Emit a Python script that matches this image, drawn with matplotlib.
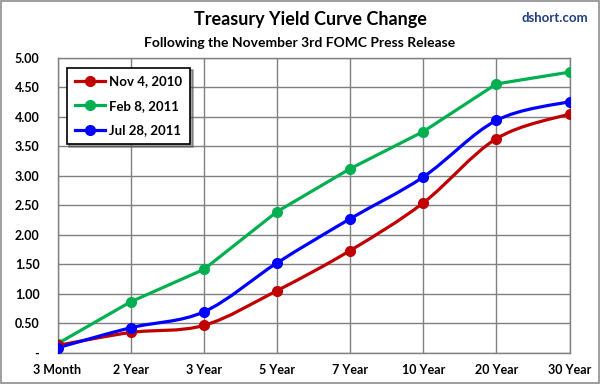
import numpy as np
import matplotlib.pyplot as plt
from matplotlib.path import Path
from matplotlib.patches import PathPatch, Rectangle
from matplotlib.lines import Line2D

plt.rcParams['font.family'] = ['Lato', 'DejaVu Sans']

# --- data ---
maturities = ["3 Month", "2 Year", "3 Year", "5 Year", "7 Year", "10 Year", "20 Year", "30 Year"]
nov_2010 = [0.12, 0.34, 0.46, 1.05, 1.73, 2.54, 3.63, 4.05]
feb_2011 = [0.15, 0.86, 1.41, 2.39, 3.12, 3.75, 4.56, 4.76]
jul_2011 = [0.08, 0.42, 0.69, 1.52, 2.27, 2.98, 3.94, 4.26]
yticks = [0, 0.5, 1.0, 1.5, 2.0, 2.5, 3.0, 3.5, 4.0, 4.5, 5.0]
ytick_labels = ["-", "0.50", "1.00", "1.50", "2.00", "2.50", "3.00", "3.50", "4.00", "4.50", "5.00"]

RED = "#C00000"
GREEN = "#00B050"
BLUE = "#0000FF"
GRID = "#808080"


def smooth_path(xs, ys):
    # excel-style smoothed line: cubic bezier through the points
    pts = np.column_stack([xs, ys]).astype(float)
    n = len(pts)
    verts = [pts[0]]
    codes = [Path.MOVETO]
    for i in range(n - 1):
        p0 = pts[i - 1] if i > 0 else pts[i]
        p1 = pts[i]
        p2 = pts[i + 1]
        p3 = pts[i + 2] if i + 2 < n else pts[i + 1]
        c1 = p1 + (p2 - p0) / 6.0
        c2 = p2 - (p3 - p1) / 6.0
        verts += [c1, c2, p2]
        codes += [Path.CURVE4] * 3
    return Path(verts, codes)


fig = plt.figure(figsize=(6.01, 3.85), dpi=100)
# outer chart border
fig.patches.append(Rectangle((0.002, 0.004), 0.994, 0.993, transform=fig.transFigure,
                             fill=False, edgecolor="#8c8c8c", linewidth=1.2))

W, H = 601, 385
left, right, top, bottom = 57.5, 569.5, 58, 352.5
ax = fig.add_axes([left / W, 1 - bottom / H, (right - left) / W, (bottom - top) / H])

x = np.arange(len(maturities))

# green is drawn straight, red and blue smoothed
ax.plot(x, feb_2011, color=GREEN, lw=2.3, marker="o", ms=7, zorder=3)
for vals, col in [(nov_2010, RED), (jul_2011, BLUE)]:
    ax.add_patch(PathPatch(smooth_path(x, vals), facecolor="none", edgecolor=col,
                           lw=2.3, zorder=3, capstyle="round"))
    ax.plot(x, vals, linestyle="none", marker="o", ms=7, color=col, zorder=4)

ax.set_xlim(0, len(maturities) - 1)
ax.set_ylim(0, 5)
ax.set_xticks(x)
ax.set_xticklabels(maturities, fontsize=9, fontweight="bold")
ax.set_yticks(yticks)
ax.set_yticklabels(ytick_labels, fontsize=9, fontweight="bold")
ax.tick_params(length=0, pad=8)
ax.tick_params(axis="y", pad=13)
ax.grid(True, color=GRID, lw=1)
for sp in ax.spines.values():
    sp.set_color(GRID)
    sp.set_linewidth(1)

handles = [Line2D([], [], color=c, lw=2.3, marker="o", ms=7) for c in (RED, GREEN, BLUE)]
leg = ax.legend(handles, ["Nov 4, 2010", "Feb 8, 2011", "Jul 28, 2011"],
                loc="upper left", bbox_to_anchor=(0.005, 0.99), fancybox=False, shadow=True,
                edgecolor="black", framealpha=1, handlelength=2.3, handletextpad=0.3,
                labelspacing=0.95, borderpad=0.6, prop={"weight": "bold", "size": 9.5})
leg.get_frame().set_linewidth(1.2)

fig.text(310 / W, 1 - 20 / H, "Treasury Yield Curve Change", ha="center", va="center",
         fontsize=13, fontweight="bold")
fig.text(300 / W, 1 - 43 / H, "Following the November 3rd FOMC Press Release", ha="center",
         va="center", fontsize=10, fontweight="bold")
fig.text(588 / W, 1 - 18 / H, "dshort.com", ha="right", va="center", fontsize=9.5,
         fontweight="bold", color="#1F3F7F")

fig.savefig("out.png", dpi=100)
